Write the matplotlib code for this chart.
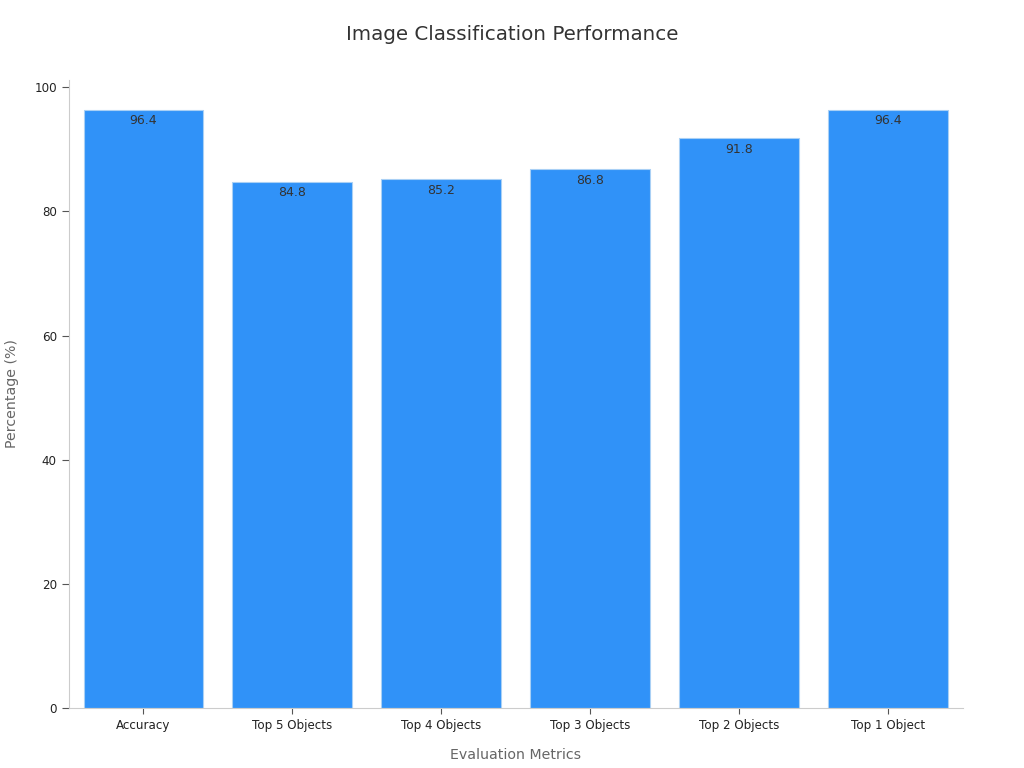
import matplotlib
matplotlib.use("Agg")
import matplotlib.pyplot as plt

metrics = ["Accuracy", "Top 5 Objects", "Top 4 Objects", "Top 3 Objects", "Top 2 Objects", "Top 1 Object"]
values = [96.4, 84.8, 85.2, 86.8, 91.8, 96.4]

fig = plt.figure(figsize=(10.24, 7.68), dpi=100)
ax = fig.add_axes([0.067, 0.078, 0.873, 0.818])

bars = ax.bar(range(len(metrics)), values, width=0.8, color="#3092f8",
              edgecolor="#a9d0f5", linewidth=0.8)
for b, v in zip(bars, values):
    ax.text(b.get_x() + b.get_width() / 2, v - 0.7, f"{v:.1f}", ha="center", va="top",
            fontsize=9, color="#333333")

ax.set_xlim(-0.5, len(metrics) - 0.5)
ax.set_ylim(0, 101.2)
ax.set_xticks(range(len(metrics)))
ax.set_xticklabels(metrics, fontsize=8.6, color="#222222")
ax.set_yticks([0, 20, 40, 60, 80, 100])
ax.tick_params(axis="y", labelsize=8.6, labelcolor="#222222", color="#555555", length=5)
ax.tick_params(axis="x", color="#555555", length=4)

for s in ["top", "right"]:
    ax.spines[s].set_visible(False)
for s in ["left", "bottom"]:
    ax.spines[s].set_color("#cccccc")

ax.set_xlabel("Evaluation Metrics", fontsize=10.2, color="#666666", labelpad=12)
ax.set_ylabel("Percentage (%)", fontsize=10.2, color="#666666", labelpad=11)
fig.suptitle("Image Classification Performance", fontsize=14.3, color="#333333", y=0.968)

plt.savefig("out.png", dpi=100)
